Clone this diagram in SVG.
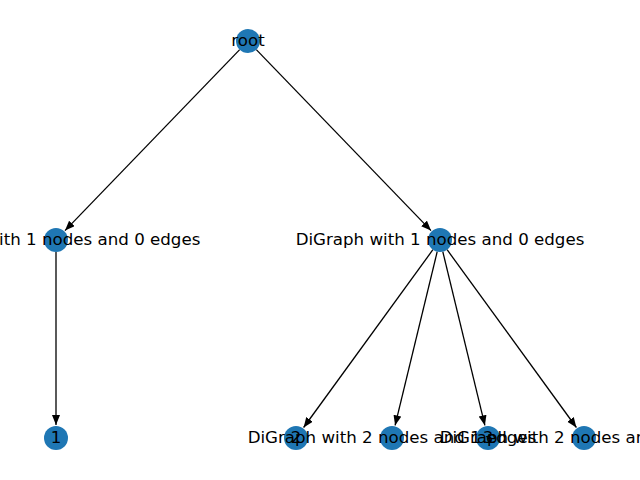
<svg xmlns="http://www.w3.org/2000/svg" width="640" height="480" viewBox="0 0 640 480">
<defs>
<marker id="ah" markerUnits="userSpaceOnUse" markerWidth="12" markerHeight="10" refX="10" refY="4" orient="auto">
<path d="M0,0 L10,4 L0,8 Z" fill="#000"/>
</marker>
<style>
.e{stroke:#000;stroke-width:1.3;fill:none;marker-end:url(#ah)}
.n{fill:#1f77b4}
.t{font-family:"DejaVu Sans",sans-serif;font-size:16.67px;fill:#000;text-anchor:middle}
</style>
</defs>
<rect width="640" height="480" fill="#fff"/>
<g id="edges">
<line class="e" x1="239.7" y1="49.6" x2="65" y2="230.6"/>
<line class="e" x1="256.3" y1="49.6" x2="431" y2="230.6"/>
<line class="e" x1="56" y1="252" x2="56" y2="425"/>
<line class="e" x1="432.9" y1="249.7" x2="303.6" y2="427.5"/>
<line class="e" x1="437.2" y1="251.7" x2="395.1" y2="425.4"/>
<line class="e" x1="442.8" y1="251.7" x2="484.9" y2="425.4"/>
<line class="e" x1="447.1" y1="249.7" x2="576.4" y2="427.5"/>
</g>
<g id="node-root"><circle class="n" cx="248" cy="41" r="12"/></g>
<g id="node-a"><circle class="n" cx="56" cy="240" r="12"/></g>
<g id="node-b"><circle class="n" cx="440" cy="240" r="12"/></g>
<g id="node-1"><circle class="n" cx="56" cy="438" r="12"/></g>
<g id="node-2"><circle class="n" cx="296" cy="438" r="12"/></g>
<g id="node-c"><circle class="n" cx="392" cy="438" r="12"/></g>
<g id="node-3"><circle class="n" cx="488" cy="438" r="12"/></g>
<g id="node-d"><circle class="n" cx="584" cy="438" r="12"/></g>
<g id="labels">
<text class="t" x="248" y="46">root</text>
<text class="t" x="56" y="245">DiGraph with 1 nodes and 0 edges</text>
<text class="t" x="440" y="245">DiGraph with 1 nodes and 0 edges</text>
<text class="t" x="56" y="443">1</text>
<text class="t" x="296" y="443">2</text>
<text class="t" x="392" y="443">DiGraph with 2 nodes and 1 edges</text>
<text class="t" x="488" y="443">3</text>
<text class="t" x="584" y="443">DiGraph with 2 nodes and 1 edges</text>
</g>
</svg>
